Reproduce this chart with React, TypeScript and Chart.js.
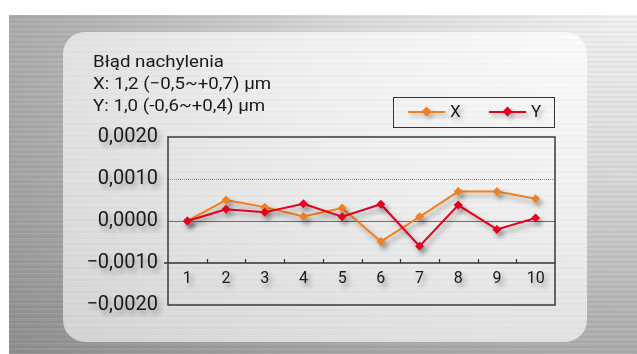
import React, { useEffect, useRef } from "react";
import { Chart, registerables } from "chart.js";

Chart.register(...registerables);

const categories = ["1", "2", "3", "4", "5", "6", "7", "8", "9", "10"];
const seriesNames = ["X", "Y"];
const seriesX = [0, 0.0005, 0.00033, 0.00011, 0.00031, -0.00049, 0.0001, 0.0007, 0.0007, 0.00053];
const seriesY = [0, 0.00028, 0.00021, 0.00041, 0.0001, 0.0004, -0.0006, 0.00038, -0.0002, 0.00007];
const yTicks = [-0.002, -0.001, 0, 0.001, 0.002];
const titleLines = ["Błąd nachylenia", "X: 1,2 (−0,5~+0,7) μm", "Y: 1,0 (-0,6~+0,4) μm"];
const colors = ["#f08020", "#e6001e"];

const fmt = (v: number) => {
  const s = Math.abs(v).toFixed(4).replace(".", ",");
  return (v < -1e-9 ? "\u2212" : "") + s;
};

const setShadow = (ctx: CanvasRenderingContext2D) => {
  ctx.shadowColor = "rgba(0,0,0,0.35)";
  ctx.shadowBlur = 5;
  ctx.shadowOffsetX = 3;
  ctx.shadowOffsetY = 4;
};

const framePlugin = {
  id: "frame",
  beforeDraw(chart: any) {
    const ctx = chart.ctx;
    ctx.save();
    setShadow(ctx);
  },
  beforeDatasetsDraw(chart: any) {
    const ctx = chart.ctx;
    ctx.restore();
    const { left, right, top, bottom } = chart.chartArea;
    const ys = chart.scales.y;
    const xs = chart.scales.x;
    ctx.save();
    const yA = Math.round(ys.getPixelForValue(yTicks[3])) + 0.5;
    ctx.strokeStyle = "#8a8a8a";
    ctx.lineWidth = 1;
    ctx.setLineDash([1, 1]);
    ctx.beginPath();
    ctx.moveTo(left, yA);
    ctx.lineTo(right, yA);
    ctx.stroke();
    ctx.setLineDash([]);
    const y0 = Math.round(ys.getPixelForValue(yTicks[2])) + 0.5;
    ctx.strokeStyle = "#6e6e6e";
    ctx.beginPath();
    ctx.moveTo(left, y0);
    ctx.lineTo(right, y0);
    ctx.stroke();
    const yAx = ys.getPixelForValue(yTicks[1]);
    ctx.strokeStyle = "#333";
    ctx.lineWidth = 1.6;
    ctx.beginPath();
    ctx.moveTo(left - 4, yAx);
    ctx.lineTo(right, yAx);
    ctx.stroke();
    ctx.lineWidth = 1.2;
    ctx.beginPath();
    for (let i = 0; i < categories.length - 1; i++) {
      const x = Math.round(xs.getPixelForValue(i + 0.5)) + 0.5;
      ctx.moveTo(x, yAx);
      ctx.lineTo(x, yAx - 4);
    }
    ctx.stroke();
    ctx.strokeStyle = "#3a3a3a";
    ctx.lineWidth = 1.5;
    ctx.strokeRect(left, top, right - left, bottom - top);
    ctx.restore();
    ctx.save();
    setShadow(ctx);
  },
  afterDatasetsDraw(chart: any) {
    chart.ctx.restore();
  },
};

function LegendItem({ color, label, left }: { color: string; label: string; left: number }) {
  return (
    <div style={{ position: "absolute", left, top: 0, height: 28, width: 70, filter: "drop-shadow(3px 3px 2px rgba(0,0,0,0.3))" }}>
      <div style={{ position: "absolute", left: 0, top: 13, width: 37, height: 2, background: color }} />
      <div
        style={{
          position: "absolute",
          left: 15,
          top: 10,
          width: 7,
          height: 7,
          background: color,
          transform: "rotate(45deg)",
        }}
      />
      <div style={{ position: "absolute", left: 42, top: 3, fontSize: 17, lineHeight: "20px", color: "#1a1a1a" }}>{label}</div>
    </div>
  );
}

export default function App() {
  const ref = useRef<HTMLCanvasElement | null>(null);
  useEffect(() => {
    if (!ref.current) return;
    Chart.defaults.font.family = "Roboto";
    const chart = new Chart(ref.current, {
      type: "line",
      data: {
        labels: categories,
        datasets: [
          {
            label: seriesNames[0],
            data: seriesX,
            borderColor: colors[0],
            backgroundColor: colors[0],
            borderWidth: 2,
            pointStyle: "rectRot",
            pointRadius: 4.5,
            pointBorderWidth: 0,
            tension: 0,
            order: 2,
          },
          {
            label: seriesNames[1],
            data: seriesY,
            borderColor: colors[1],
            backgroundColor: colors[1],
            borderWidth: 2,
            pointStyle: "rectRot",
            pointRadius: 4.5,
            pointBorderWidth: 0,
            tension: 0,
            order: 1,
          },
        ],
      },
      options: {
        animation: false,
        responsive: false,
        maintainAspectRatio: false,
        layout: { padding: { top: 17, bottom: 15, left: 0, right: 15 } },
        plugins: { legend: { display: false }, tooltip: { enabled: false }, title: { display: false } },
        scales: {
          x: {
            type: "category",
            axis: "x",
            position: { y: yTicks[1] } as any,
            offset: true,
            grid: { display: false, drawTicks: false },
            border: { display: false },
            afterFit: (s: any) => {
              s.height = 0;
              s.paddingLeft = 0;
              s.paddingRight = 0;
            },
            ticks: { color: "#1a1a1a", font: { size: 16 }, padding: 6, maxRotation: 0, autoSkip: false },
          },
          y: {
            type: "linear",
            min: yTicks[0],
            max: yTicks[yTicks.length - 1],
            grid: { display: false, drawTicks: false },
            border: { display: false },
            afterBuildTicks: (s: any) => {
              s.ticks = yTicks.map((v) => ({ value: v }));
            },
            afterFit: (s: any) => {
              s.width = 108;
              s.paddingTop = 0;
              s.paddingBottom = 0;
            },
            ticks: {
              color: "#1a1a1a",
              font: { size: 20 },
              padding: 10,
              callback: (v: any) => fmt(Number(v)),
            },
          },
        },
      },
      plugins: [framePlugin],
    });
    return () => chart.destroy();
  }, []);

  return (
    <div style={{ position: "fixed", left: 0, top: 0, width: 637, height: 354, background: "#ffffff", overflow: "hidden", fontFamily: "Roboto, sans-serif" }}>
      <div
        style={{
          position: "absolute",
          left: 9,
          top: 15,
          right: 0,
          bottom: 0,
          background:
            "repeating-linear-gradient(0deg, rgba(255,255,255,0.07) 0px, rgba(255,255,255,0.07) 1px, rgba(0,0,0,0.04) 1px, rgba(0,0,0,0.04) 3px, rgba(0,0,0,0) 3px, rgba(0,0,0,0) 5px), radial-gradient(ellipse at 100% 0%, #f2f2f2 0%, #dcdcdc 30%, #b4b4b4 62%, #8e8e8e 100%)",
        }}
      />
      <div
        style={{
          position: "absolute",
          left: 63,
          top: 32,
          width: 524,
          height: 310,
          borderRadius: 22,
          background:
            "repeating-linear-gradient(0deg, rgba(255,255,255,0.05) 0px, rgba(255,255,255,0.05) 1px, rgba(0,0,0,0.02) 1px, rgba(0,0,0,0.02) 3px, rgba(0,0,0,0) 3px, rgba(0,0,0,0) 6px), radial-gradient(ellipse at 100% 0%, #fbfbfb 0%, #f0f0f0 40%, #e0e0e0 75%, #d3d3d3 100%)",
        }}
      />
      <div
        style={{
          position: "absolute",
          left: 93,
          top: 50,
          fontSize: 17,
          lineHeight: "22px",
          color: "#1a1a1a",
          whiteSpace: "pre",
          transform: "scaleX(1.1)",
          transformOrigin: "0 0",
        }}
      >
        {titleLines.map((t, i) => (
          <div key={i}>{t}</div>
        ))}
      </div>
      <div style={{ position: "absolute", left: 393, top: 97, width: 162, height: 31, border: "1.5px solid #333", boxSizing: "border-box" }}>
        <LegendItem color={colors[0]} label={seriesNames[0]} left={14} />
        <LegendItem color={colors[1]} label={seriesNames[1]} left={95} />
      </div>
      <canvas ref={ref} width={510} height={200} style={{ position: "absolute", left: 60, top: 120, width: 510, height: 200 }} />
    </div>
  );
}
